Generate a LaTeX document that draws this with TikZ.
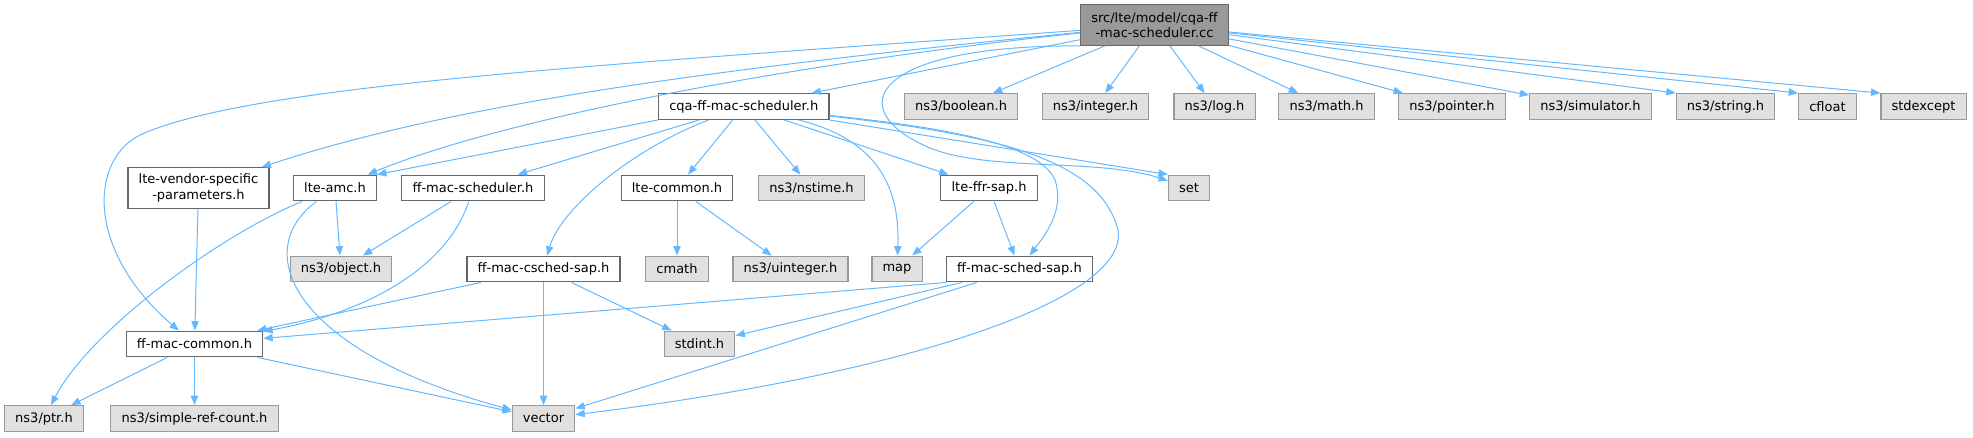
\documentclass[tikz,border=0pt]{standalone}
\usepackage{fontspec}
\setmainfont{DejaVu Sans}
\usepackage{tikz}
\usetikzlibrary{arrows.meta}
\definecolor{edgeblue}{HTML}{63B8FF}
\definecolor{boxgray}{HTML}{666666}
\definecolor{sysgray}{HTML}{999999}
\definecolor{sysfill}{HTML}{E0E0E0}

\begin{document}
\begin{tikzpicture}[x=0.75pt,y=-0.75pt]
\tikzstyle{every node}=[font=\fontsize{9.75}{11.5}\selectfont,inner xsep=8pt,inner ysep=0pt,minimum height=19.3pt,line width=0.9pt]
\tikzstyle{header}=[draw=boxgray,fill=white]
\tikzstyle{sysheader}=[draw=sysgray,fill=sysfill]
\tikzstyle{source}=[draw=boxgray,fill=sysgray]
\tikzstyle{twolines}=[align=center,minimum height=30.4pt]
\tikzstyle{incl}=[draw=edgeblue,line width=0.75pt,-{Triangle[length=7pt,width=5.5pt]}]
\useasboundingbox (0,0) rectangle (1973,437);

% top row
\node[source,twolines] (root) at (1154.5,25) {src/lte/model/cqa-ff\\-mac-scheduler.cc};

% second row
\node[header] (cqah) at (743.75,106.5) {cqa-ff-mac-scheduler.h};
\node[sysheader] (boolh) at (961,106.5) {ns3/boolean.h};
\node[sysheader] (inth) at (1095.5,106.5) {ns3/integer.h};
\node[sysheader] (logh) at (1214.5,106.5) {ns3/log.h};
\node[sysheader] (mathh) at (1326.5,106.5) {ns3/math.h};
\node[sysheader] (pntrh) at (1452,106.5) {ns3/pointer.h};
\node[sysheader] (simh) at (1590.5,106.5) {ns3/simulator.h};
\node[sysheader] (strh) at (1725.5,106.5) {ns3/string.h};
\node[sysheader] (cflt) at (1827.5,106.5) {cfloat};
\node[sysheader] (stdexc) at (1923.5,106.5) {stdexcept};

% third row
\node[header,twolines] (lvsp) at (198.5,188) {lte-vendor-specific\\-parameters.h};
\node[header] (lamc) at (335,188) {lte-amc.h};
\node[header] (ffms) at (473,188) {ff-mac-scheduler.h};
\node[header] (lcom) at (677,188) {lte-common.h};
\node[sysheader] (nstm) at (811.5,188) {ns3/nstime.h};
\node[header] (lffr) at (989,188) {lte-ffr-sap.h};
\node[sysheader] (setn) at (1189,188) {set};

% fourth row
\node[sysheader] (objh) at (341,269) {ns3/object.h};
\node[header] (csched) at (543.5,269) {ff-mac-csched-sap.h};
\node[sysheader] (cmth) at (677,269) {cmath};
\node[sysheader] (uint) at (790.5,269) {ns3/uinteger.h};
\node[sysheader] (mapn) at (897,269) {map};
\node[header] (ffsched) at (1019.5,269) {ff-mac-sched-sap.h};

% fifth and last rows
\node[header] (ffcom) at (194.5,344) {ff-mac-common.h};
\node[sysheader] (stdi) at (699.5,344) {stdint.h};
\node[sysheader] (ptrh) at (44,418.5) {ns3/ptr.h};
\node[sysheader] (srch) at (194.5,418.5) {ns3/simple-ref-count.h};
\node[sysheader] (vec) at (543.5,418.5) {vector};

% includes of the source file
\draw[incl] (root) .. controls (600,65) and (250,85) .. (140,135) .. controls (90,160) and (85,250) .. (ffcom);
\draw[incl] (root) .. controls (700,70) and (450,105) .. (lvsp);
\draw[incl] (root) .. controls (780,65) and (500,120) .. (lamc);
\draw[incl] (root) -- (cqah);
\draw[incl] (root.south west) .. controls (870,45) and (840,110) .. (930,148) .. controls (990,172) and (1100,158) .. (setn);
\draw[incl] (root) -- (boolh);
\draw[incl] (root) -- (inth);
\draw[incl] (root) -- (logh);
\draw[incl] (root) -- (mathh);
\draw[incl] (root) -- (pntrh);
\draw[incl] (root) -- (simh);
\draw[incl] (root) -- (strh.north west);
\draw[incl] (root) -- (cflt.north west);
\draw[incl] (root) -- (stdexc.north west);

% cqa-ff-mac-scheduler.h
\draw[incl] (cqah.south west) -- (lamc.north east);
\draw[incl] (cqah) -- (ffms);
\draw[incl] (cqah) .. controls (630,150) and (560,210) .. (csched);
\draw[incl] (cqah) -- (lcom);
\draw[incl] (cqah) -- (nstm);
\draw[incl] (cqah) -- (lffr);
\draw[incl] (cqah) .. controls (880,140) and (900,190) .. (mapn);
\draw[incl] (cqah) .. controls (950,128) and (1040,145) .. (1055,180) .. controls (1065,210) and (1045,235) .. (ffsched);
\draw[incl] (cqah.south east) -- (setn.north west);
\draw[incl] (cqah) .. controls (1000,135) and (1100,160) .. (1118,230) .. controls (1130,300) and (900,375) .. (vec);

% third row
\draw[incl] (lvsp) -- (ffcom);
\draw[incl] (lamc) -- (objh);
\draw[incl] (lamc) .. controls (220,235) and (90,330) .. (ptrh);
\draw[incl] (lamc) .. controls (250,250) and (290,350) .. (vec);
\draw[incl] (ffms) -- (objh);
\draw[incl] (ffms) .. controls (450,260) and (380,310) .. (ffcom);
\draw[incl] (lcom) -- (cmth);
\draw[incl] (lcom) -- (uint);
\draw[incl] (lffr) -- (mapn);
\draw[incl] (lffr) -- (ffsched);

% fourth row
\draw[incl] (csched) -- (ffcom);
\draw[incl] (csched) -- (vec);
\draw[incl] (csched) -- (stdi);
\draw[incl] (ffsched.south west) -- (ffcom);
\draw[incl] (ffsched) -- (stdi);
\draw[incl] (ffsched) -- (vec);

% ff-mac-common.h
\draw[incl] (ffcom) -- (ptrh);
\draw[incl] (ffcom) -- (srch);
\draw[incl] (ffcom) -- (vec);
\end{tikzpicture}
\end{document}
